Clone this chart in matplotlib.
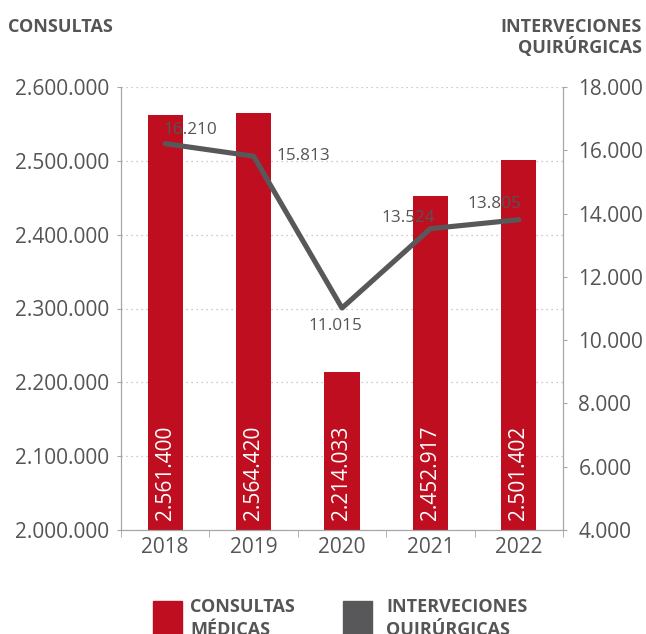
import numpy as np
import matplotlib.pyplot as plt
from matplotlib import font_manager as fm
from matplotlib.ticker import FuncFormatter

years = ['2018', '2019', '2020', '2021', '2022']
consultas = [2561400, 2564420, 2214033, 2452917, 2501402]
intervenciones = [16210, 15813, 11015, 13524, 13805]

red = '#BE0E20'
dark = '#58585A'
txt = '#555555'
axc = '#A6A6A6'


def font_file(*wanted):
    files = {f.fname.split('/')[-1]: f.fname for f in fm.fontManager.ttflist}
    for w in wanted:
        if w in files:
            return fm.FontProperties(fname=files[w])
    return fm.FontProperties(family='DejaVu Sans')


f_reg = font_file('OpenSans-Regular.ttf', 'Lato-Regular.ttf')
f_bold = font_file('OpenSans-SemiBold.ttf', 'OpenSans-Bold.ttf', 'Lato-Bold.ttf')


def miles(v, pos=None):
    return f'{int(round(v)):,}'.replace(',', '.')


def fp(base, size):
    p = base.copy()
    p.set_size(size)
    return p


W, H = 646, 634
fig = plt.figure(figsize=(W / 100, H / 100), dpi=100)
ax = fig.add_axes([121 / W, 1 - 530 / H, (563 - 121) / W, (530 - 87) / H])
ax2 = ax.twinx()

x = np.arange(len(years))
ax.bar(x, consultas, width=0.4, color=red, zorder=2)
ax.set_ylim(2000000, 2600000)
ax.set_xlim(-0.5, 4.5)
ax.set_yticks(np.arange(2000000, 2600001, 100000))
ax.yaxis.set_major_formatter(FuncFormatter(miles))
ax.grid(axis='y', color='#BBBBBB', linestyle=(0, (1, 3)), linewidth=0.9, zorder=0)
ax.set_xticks(x)
ax.set_xticklabels(years)
ax.set_xticks(np.arange(-0.5, 5, 1), minor=True)
ax.tick_params(axis='x', which='major', length=0, labelcolor=txt, pad=5)
ax.tick_params(axis='x', which='minor', length=5, color=axc)
ax.tick_params(axis='y', length=3, color=axc, labelcolor=txt, pad=5.5)

for xi, v in zip(x, consultas):
    ax.text(xi, 2000000 + 14000, miles(v), rotation=90, ha='center', va='bottom',
            color='white', fontproperties=fp(f_reg, 15), zorder=3)

ax2.plot(x, intervenciones, color=dark, linewidth=3.7, zorder=4, solid_capstyle='round')
ax2.set_ylim(4000, 18000)
ax2.set_yticks(np.arange(4000, 18001, 2000))
ax2.yaxis.set_major_formatter(FuncFormatter(miles))
ax2.tick_params(axis='y', length=3, color=axc, labelcolor=txt, pad=8)

for lab in ax.get_xticklabels():
    lab.set_fontproperties(fp(f_reg, 15))
for lab in ax.get_yticklabels() + ax2.get_yticklabels():
    lab.set_fontproperties(fp(f_reg, 15))

# label offsets in points: (dx, dy, ha)
offsets = [(-1.5, 10, 'left'), (16.5, 0, 'left'), (-5, -13, 'center'),
           (-35, 8, 'left'), (-37, 11, 'left')]
for xi, v, (dx, dy, ha) in zip(x, intervenciones, offsets):
    ax2.annotate(miles(v), (xi, v), xytext=(dx, dy), textcoords='offset points',
                 ha=ha, va='center', fontproperties=fp(f_reg, 12.3), color=txt, zorder=5)

for a in (ax, ax2):
    for s in a.spines.values():
        s.set_color(axc)
    a.spines['top'].set_visible(False)

hdr = fp(f_bold, 13)
fig.text(8 / W, 1 - 32 / H, 'CONSULTAS', fontproperties=hdr, color=txt,
         ha='left', va='baseline')
fig.text(642 / W, 1 - 32 / H, 'INTERVECIONES', fontproperties=hdr, color=txt,
         ha='right', va='baseline')
fig.text(642 / W, 1 - 53 / H, 'QUIRÚRGICAS', fontproperties=hdr, color=txt,
         ha='right', va='baseline')

fig.patches.append(plt.Rectangle((153 / W, 0), 29 / W, 33 / H,
                                 transform=fig.transFigure, color=red))
fig.patches.append(plt.Rectangle((343 / W, 0), 29 / W, 33 / H,
                                 transform=fig.transFigure, color=dark))
legend_rows = [(190, ['CONSULTAS', 'MÉDICAS']), (386, ['INTERVECIONES', 'QUIRÚRGICAS'])]
for lx, rows in legend_rows:
    for i, row in enumerate(rows):
        fig.text(lx / W, 1 - (612 + 23 * i) / H, row, fontproperties=hdr, color=txt,
                 ha='left', va='baseline')

fig.savefig('out.png', dpi=100)
